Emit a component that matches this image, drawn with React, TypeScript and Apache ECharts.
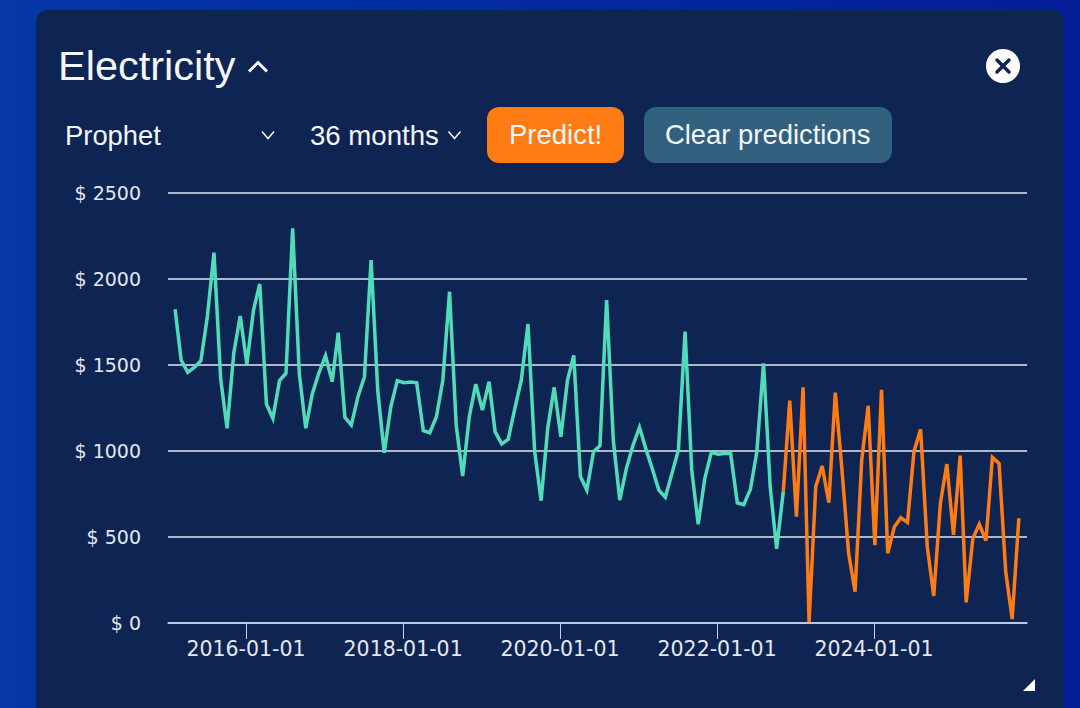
import React, { useEffect, useRef } from "react";
import * as echarts from "echarts";

const historyValues = [
  1824, 1529, 1457, 1486, 1525, 1781, 2153, 1420, 1132, 1568, 1785, 1506, 1820, 1971, 1273, 1190, 1409, 1452, 2295, 1450,
  1132, 1335, 1453, 1554, 1403, 1688, 1196, 1151, 1316, 1432, 2110, 1350, 990, 1258, 1409, 1397, 1401, 1397, 1118, 1106,
  1199, 1413, 1926, 1150, 855, 1199, 1389, 1238, 1403, 1112, 1041, 1068, 1248, 1413, 1738, 1000, 711, 1132, 1370, 1083,
  1413, 1556, 851, 773, 996, 1031, 1878, 1064, 715, 899, 1031, 1138, 1006, 899, 773, 731, 870, 1006, 1694, 890,
  574, 841, 992, 981, 986, 986, 699, 688, 777, 996, 1510, 793, 432, 763,
];
const predictionValues = [
  763, 1293, 618, 1370, 5, 793, 913, 699, 1339, 890, 405, 182, 948, 1263, 453, 1355, 405, 560, 612, 585,
  996, 1126, 444, 157, 696, 924, 512, 973, 120, 492, 574, 479, 963, 928, 298, 23, 609,
];
const yTicks = [0, 500, 1000, 1500, 2000, 2500];
const xTickYears = [2016, 2018, 2020, 2022, 2024];
const firstYear = 2015;
const firstMonth = 1; // zero-based: February
const dayOfMonth = 5;

const monthDate = (i: number) => Date.UTC(firstYear, firstMonth + i, dayOfMonth);
const pad = (n: number) => String(n).padStart(2, "0");
const formatDate = (v: number) => {
  const d = new Date(v);
  return `${d.getUTCFullYear()}-${pad(d.getUTCMonth() + 1)}-${pad(d.getUTCDate())}`;
};

const SANS = "Liberation Sans";

export default function App() {
  const ref = useRef<HTMLDivElement>(null);
  useEffect(() => {
    const chart = echarts.init(ref.current!, null, { renderer: "svg" });
    const xTicks = xTickYears.map((y) => Date.UTC(y, 0, 1));
    const label = (text: string, x: number, y: number, size: number) => ({
      type: "text",
      x,
      y,
      z: 5,
      style: { text, fill: "#f4f6fa", font: `${size}px "${SANS}"`, textVerticalAlign: "middle", textAlign: "left" },
    });
    const chevron = (cx: number, cy: number, w: number, h: number, lw: number) => ({
      type: "polyline",
      z: 5,
      shape: { points: [[cx - w, cy - h], [cx, cy + h], [cx + w, cy - h]] },
      style: { stroke: "#f4f6fa", lineWidth: lw, fill: "none" },
    });
    chart.setOption({
      animation: false,
      backgroundColor: {
        type: "linear", x: 0, y: 0, x2: 1, y2: 0,
        colorStops: [{ offset: 0, color: "#0636a8" }, { offset: 0.5, color: "#0229a0" }, { offset: 1, color: "#041f98" }],
      },
      grid: { left: 168, right: 53, top: 193, bottom: 85 },
      xAxis: {
        type: "value",
        min: Date.UTC(2015, 0, 3),
        max: Date.UTC(2025, 11, 13),
        axisLine: { show: true, onZero: false, lineStyle: { color: "#c3cfe6", width: 1.5 } },
        axisTick: { show: true, length: 16, customValues: xTicks, lineStyle: { color: "#c3cfe6", width: 1 } },
        axisLabel: {
          customValues: xTicks,
          formatter: (v: number) => formatDate(v),
          color: "#e4e8f0",
          fontFamily: "DejaVu Sans",
          fontSize: 20.5,
          margin: 15,
        },
        splitLine: { show: false },
      },
      yAxis: {
        type: "value",
        min: yTicks[0],
        max: yTicks[yTicks.length - 1],
        interval: 500,
        axisLine: { show: false },
        axisTick: { show: false },
        axisLabel: {
          formatter: (v: number) => `$ ${v}`,
          color: "#e4e8f0",
          fontFamily: "DejaVu Sans",
          fontSize: 19,
          margin: 27,
        },
        splitLine: { show: true, lineStyle: { color: "#e6eaf2", width: 1.5 } },
      },
      series: [
        {
          name: "History",
          type: "line",
          symbol: "none",
          z: 3,
          lineStyle: { color: "#50dcb9", width: 3.5, join: "miter" },
          data: historyValues.map((v, i) => [monthDate(i), v]),
        },
        {
          name: "Prediction",
          type: "line",
          symbol: "none",
          z: 4,
          lineStyle: { color: "#ff7b14", width: 3.5, join: "miter" },
          data: predictionValues.map((v, i) => [monthDate(historyValues.length - 1 + i), v]),
        },
      ],
      graphic: [
        { type: "rect", z: -10, shape: { x: 36, y: 10, width: 1028, height: 720, r: 12 }, style: { fill: "#0e2453" } },
        label("Electricity", 58, 65, 41.5),
        chevron(258, 67, 9, -4.5, 3),
        label("Prophet", 65, 135, 27.4),
        chevron(268, 135, 6, 3.5, 1.5),
        label("36 months", 310, 135, 27.6),
        chevron(454.5, 135, 6, 3.5, 1.5),
        { type: "rect", z: 4, shape: { x: 487, y: 107, width: 137, height: 56, r: 12 }, style: { fill: "#ff7b14" } },
        label("Predict!", 509, 134, 27.5),
        { type: "rect", z: 4, shape: { x: 644, y: 107, width: 248, height: 56, r: 12 }, style: { fill: "#32607f" } },
        label("Clear predictions", 665, 134, 27.4),
        { type: "circle", z: 4, shape: { cx: 1003, cy: 66, r: 17 }, style: { fill: "#ffffff" } },
        { type: "line", z: 5, shape: { x1: 997, y1: 60, x2: 1009, y2: 72 }, style: { stroke: "#0e2453", lineWidth: 3.5, lineCap: "round" } },
        { type: "line", z: 5, shape: { x1: 1009, y1: 60, x2: 997, y2: 72 }, style: { stroke: "#0e2453", lineWidth: 3.5, lineCap: "round" } },
        { type: "polygon", z: 5, shape: { points: [[1035, 679], [1035, 691], [1023, 691]] }, style: { fill: "#ffffff" } },
      ],
    });
    return () => chart.dispose();
  }, []);
  return <div ref={ref} style={{ position: "absolute", left: 0, top: 0, width: 1080, height: 708 }} />;
}
